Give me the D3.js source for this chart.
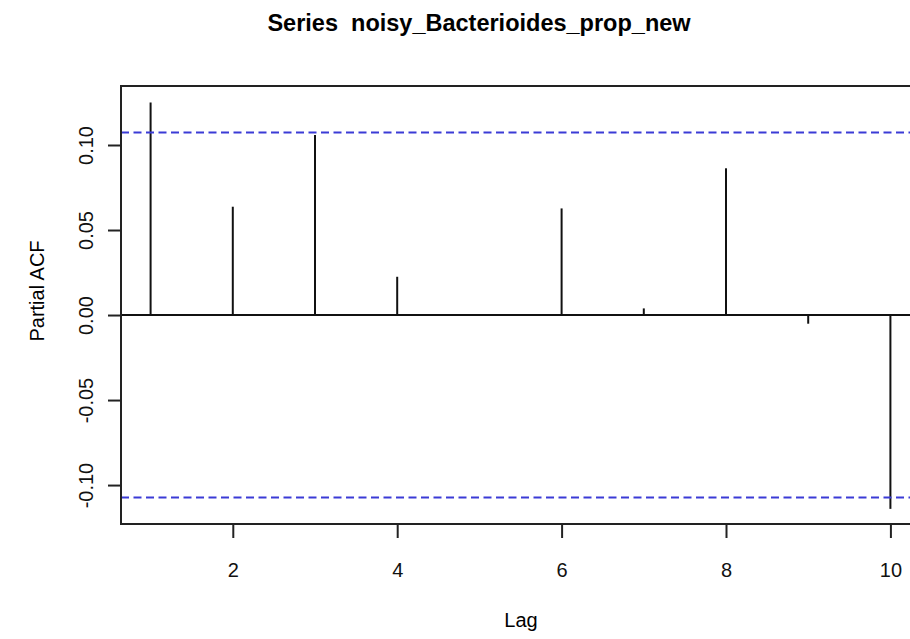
<!DOCTYPE html>
<html>
<head>
<meta charset="utf-8">
<script src="https://cdn.jsdelivr.net/npm/d3@7"></script>
<style>
  body { margin: 0; background: #fff; }
  svg { display: block; font-family: "Liberation Sans", Arial, sans-serif; }
</style>
</head>
<body>
<div id="chart"></div>
<script>
// data
const lags = [1, 2, 3, 4, 5, 6, 7, 8, 9, 10];
const pacf = [0.125, 0.0637, 0.1059, 0.0225, 0.0006, 0.0627, 0.0039, 0.0863, -0.0051, -0.114];
const ci = 0.1073; // confidence bound
const xTicks = [2, 4, 6, 8, 10];
const yTicks = [-0.10, -0.05, 0.00, 0.05, 0.10];
const title = "Series  noisy_Bacterioides_prop_new";

const width = 910, height = 639;
const box = { left: 121, top: 86, right: 920, bottom: 524 };

const svg = d3.select("#chart").append("svg")
    .attr("width", width)
    .attr("height", height);

// R style: axis limits padded by 4%
const x = d3.scaleLinear().domain([0.64, 10.36]).range([box.left, box.right]);
const y = d3.scaleLinear().domain([-0.1229, 0.1347]).range([box.bottom, box.top]);

// title (keep the double space)
svg.append("text")
    .attr("x", 479).attr("y", 31)
    .attr("text-anchor", "middle")
    .attr("font-weight", "bold")
    .attr("font-size", 23.5)
    .style("white-space", "pre")
    .attr("xml:space", "preserve")
    .text(title);

// spikes
svg.selectAll("line.spike")
    .data(lags)
    .enter()
    .append("line")
    .attr("class", "spike")
    .attr("x1", d => x(d)).attr("x2", d => x(d))
    .attr("y1", y(0))
    .attr("y2", (d, i) => y(pacf[i]))
    .attr("stroke", "#111")
    .attr("stroke-width", 2);

// zero line
svg.append("line")
    .attr("x1", box.left).attr("x2", box.right)
    .attr("y1", y(0)).attr("y2", y(0))
    .attr("stroke", "#111").attr("stroke-width", 2);

// confidence lines
svg.selectAll("line.ci")
    .data([ci, -ci])
    .enter()
    .append("line")
    .attr("class", "ci")
    .attr("x1", box.left).attr("x2", box.right)
    .attr("y1", d => y(d)).attr("y2", d => y(d))
    .attr("stroke", "#3b3bd6")
    .attr("stroke-width", 2)
    .attr("stroke-dasharray", "8,4.5");

// box
svg.append("rect")
    .attr("x", box.left).attr("y", box.top)
    .attr("width", box.right - box.left)
    .attr("height", box.bottom - box.top)
    .attr("fill", "none")
    .attr("stroke", "#222")
    .attr("stroke-width", 2);

// x axis
const xAxis = svg.append("g")
    .attr("transform", "translate(0," + box.bottom + ")")
    .call(d3.axisBottom(x).tickValues(xTicks).tickSize(14).tickSizeOuter(0));
xAxis.select(".domain").remove();
xAxis.attr("font-family", null).attr("font-size", 20);
xAxis.selectAll(".tick line").attr("stroke", "#222").attr("stroke-width", 2);
xAxis.selectAll("text")
    .attr("fill", "#111")
    .attr("dy", null)
    .attr("y", 53);

// y axis
const yAxis = svg.append("g")
    .attr("transform", "translate(" + box.left + ",0)")
    .call(d3.axisLeft(y).tickValues(yTicks).tickSize(13).tickSizeOuter(0)
        .tickFormat(d3.format(".2f")));
yAxis.select(".domain").remove();
yAxis.attr("font-family", null).attr("font-size", 20);
yAxis.selectAll(".tick line").attr("stroke", "#222").attr("stroke-width", 2);
yAxis.selectAll("text")
    .attr("fill", "#111")
    .attr("x", null).attr("dy", null)
    .attr("text-anchor", "middle")
    .attr("transform", "translate(-28,0) rotate(-90)")
    .text(d => d3.format(".2f")(d).replace("−", "-"));

// axis titles
svg.append("text")
    .attr("x", 521).attr("y", 627)
    .attr("text-anchor", "middle")
    .attr("font-size", 20)
    .text("Lag");

svg.append("text")
    .attr("transform", "translate(44,291) rotate(-90)")
    .attr("text-anchor", "middle")
    .attr("font-size", 20)
    .text("Partial ACF");
</script>
</body>
</html>
